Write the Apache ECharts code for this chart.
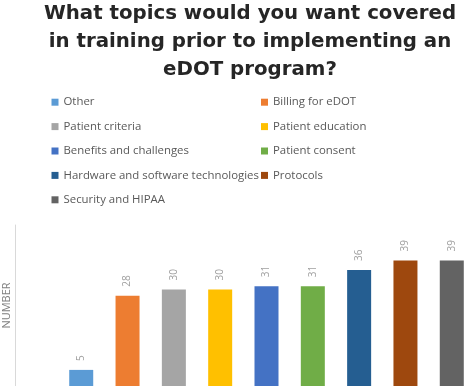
<!DOCTYPE html>
<html><head><meta charset="utf-8">
<script src="https://cdn.jsdelivr.net/npm/echarts@6/dist/echarts.min.js"></script>
<style>html,body{margin:0;padding:0;background:#fff}#c{width:467px;height:386px}</style>
</head><body><div id="c"></div>
<script>
const titleLines = ["What topics would you want covered", "in training prior to implementing an", "eDOT program?"];
const categories = [""];
const seriesNames = ["Other", "Billing for eDOT", "Patient criteria", "Patient education", "Benefits and challenges", "Patient consent", "Hardware and software technologies", "Protocols", "Security and HIPAA"];
const seriesValues = [5, 28, 30, 30, 31, 31, 36, 39, 39];
const seriesColors = ["#5B9BD5", "#ED7D31", "#A5A5A5", "#FFC000", "#4472C4", "#70AD47", "#255E91", "#9E480E", "#636363"];
const yAxisName = "NUMBER";

const chart = echarts.init(document.getElementById('c'), null, {renderer: 'canvas'});
const FONT = "'Open Sans', sans-serif";
const col1 = seriesNames.filter((_, i) => i % 2 === 0);
const col2 = seriesNames.filter((_, i) => i % 2 === 1);
const legendBase = {
  orient: 'vertical', top: 95.2, padding: 0, itemWidth: 7, itemHeight: 7, itemGap: 10.4, icon: 'rect',
  textStyle: {color: '#595959', fontSize: 11.4, fontFamily: FONT, lineHeight: 14},
  selectedMode: false
};
chart.setOption({
  animation: false,
  graphic: [{
    type: 'text', x: 250, y: 0,
    style: {
      text: titleLines.join('\n'), align: 'center', verticalAlign: 'top',
      font: "bold 19.8px 'DejaVu Sans', sans-serif", lineHeight: 28, fill: '#262626'
    }
  }],
  legend: [
    Object.assign({}, legendBase, {left: 51.5, data: col1}),
    Object.assign({}, legendBase, {left: 261, data: col2})
  ],
  grid: {left: 15, width: 503, top: 225, height: 161, containLabel: false, outerBoundsMode: 'none'},
  xAxis: {type: 'category', data: categories, axisLine: {show: false}, axisTick: {show: false}, axisLabel: {show: false}},
  yAxis: {
    type: 'value', min: 0, max: 50, interval: 10,
    name: yAxisName, nameLocation: 'middle', nameGap: 3,
    nameTextStyle: {color: '#7f7f7f', fontSize: 11, fontFamily: FONT},
    axisLine: {show: true, lineStyle: {color: '#d9d9d9', width: 1}},
    axisTick: {show: false}, axisLabel: {show: false}, splitLine: {show: false}
  },
  series: seriesNames.map((n, i) => ({
    name: n, type: 'bar', barWidth: 24, barGap: '93%',
    itemStyle: {color: seriesColors[i]},
    data: [seriesValues[i]],
    label: {
      show: true, position: 'top', rotate: 90, align: 'left', verticalAlign: 'middle',
      distance: 9, color: '#a0a0a0', fontSize: 10, fontFamily: FONT
    }
  }))
});
</script></body></html>
